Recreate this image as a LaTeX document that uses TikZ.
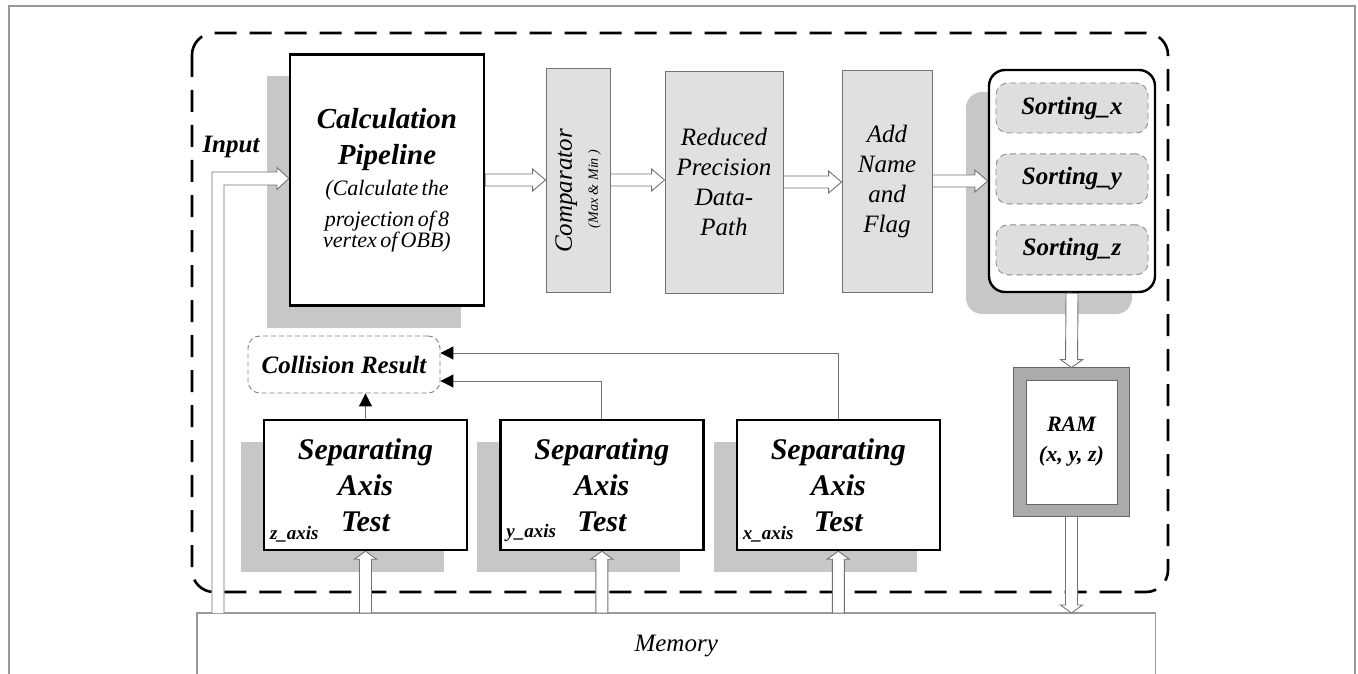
\documentclass[tikz,border=0pt]{standalone}
\usepackage{fontspec}
\setmainfont{Liberation Serif}
\usetikzlibrary{positioning, calc, shadows, arrows.meta}

\tikzset{
  block/.style={rectangle, draw, line width=2.4pt, fill=white, align=center, font=\itshape,
    drop shadow={shadow xshift=-23pt, shadow yshift=-22pt, fill=black!22, opacity=1}},
  stage/.style={rectangle, draw=black!55, line width=0.9pt, fill=black!12, align=center,
    font=\fontsize{25}{30}\selectfont\itshape},
  sortbox/.style={rectangle, draw=black!45, line width=0.9pt, dash pattern=on 6pt off 4pt,
    fill=black!13, rounded corners=12pt, minimum width=152pt, minimum height=50pt,
    font=\fontsize{25}{30}\selectfont\bfseries\itshape},
  sat/.style={block, minimum width=203pt, minimum height=130pt,
    font=\fontsize{30}{36}\selectfont\bfseries\itshape},
  axislbl/.style={inner sep=2pt, font=\fontsize{19}{22}\selectfont\bfseries\itshape},
  result/.style={rectangle, draw=black!50, line width=0.9pt, dash pattern=on 5pt off 3pt,
    rounded corners=12pt, fill=white, minimum width=192pt, minimum height=57pt,
    font=\fontsize{25}{30}\selectfont\bfseries\itshape},
  ramcell/.style={rectangle, draw=black!60, line width=0.8pt, fill=white, align=center,
    minimum width=91pt, minimum height=124pt, font=\fontsize{22}{30}\selectfont\bfseries\itshape,
    preaction={draw=black!60, line width=25.6pt}, preaction={draw=black!33, line width=24pt}},
  bus/.style={draw=black!55, line width=0.9pt, fill=white, to path={
    ($(\tikztotarget)!#1!(\tikztostart)$) coordinate (bh)
    ($(\tikztostart)!6pt!90:(\tikztotarget)$) -- ($(bh)!6pt!-90:(\tikztostart)$)
    -- ($(bh)!11pt!-90:(\tikztostart)$) -- (\tikztotarget)
    -- ($(bh)!11pt!90:(\tikztostart)$) -- ($(bh)!6pt!90:(\tikztostart)$)
    -- ($(\tikztostart)!6pt!-90:(\tikztotarget)$) -- cycle}},
  bus/.default=13pt,
  link/.style={draw=black!55, line width=1pt, -{Triangle[length=13pt, width=13pt, color=black]}},
  frame/.style={draw=black!40, line width=1.5pt}
}

\begin{document}
\begin{tikzpicture}[x=1pt, y=-1pt]
  \useasboundingbox (0,0) rectangle (1358,674);
  \draw[frame] (9,690) |- (1355,6) -- (1355,690);
  \draw[line width=2.6pt, dash pattern=on 22pt off 13pt, rounded corners=22pt] (192,33) rectangle (1168,592);

  % pipeline row
  \node[block, minimum width=194pt, minimum height=251pt, text width=186pt] (pipe) at (387,180)
    {{\fontsize{29}{36}\selectfont\bfseries Calculation\\ Pipeline\par}
     \fontsize{22}{31}\selectfont(Calculate the\\ projection of 8\\ vertex of OBB)};
  \node[stage, rotate=90, minimum width=224pt, minimum height=64pt] (comp) at (578,180)
    {Comparator\hspace*{22pt}\\[-4pt]{\fontsize{14}{16}\selectfont(Max \& Min )\hspace*{18pt}}};
  \node[stage, minimum width=118pt, minimum height=222pt] (rpd) at (724,182) {Reduced\\Precision\\Data-\\Path};
  \node[stage, minimum width=90pt, minimum height=222pt] (anf) at (887,181) {Add\\Name\\and\\Flag};
  \node[block, rounded corners=16pt, minimum width=166pt, minimum height=222pt] (sort) at (1072,181) {};
  \node[sortbox] (sortx) at (1072,108) {Sorting\_x};
  \node[sortbox, below=20pt of sortx] (sorty) {Sorting\_y};
  \node[sortbox, below=20pt of sorty] (sortz) {Sorting\_z};
  \node[font=\fontsize{25}{30}\selectfont\bfseries\itshape] (inp) at (231,147) {Input};

  % test row
  \node[result] (coll) at (344,364.5) {Collision Result};
  \node[sat] (satz) at (365.5,485) {Separating\\Axis\\Test};
  \node[sat, right=31pt of satz] (saty) {Separating\\Axis\\Test};
  \node[sat, right=31pt of saty] (satx) {Separating\\Axis\\Test};
  \node[axislbl, above right=7pt and 5pt of satz.south west] (zlbl) {z\_axis};
  \node[axislbl, above right=7pt and 5pt of saty.south west] (ylbl) {y\_axis};
  \node[axislbl, above right=7pt and 5pt of satx.south west] (xlbl) {x\_axis};
  \node[ramcell] (ram) at (1071.5,442) {RAM\\(x, y, z)};

  \node[minimum width=958pt, minimum height=66pt, inner sep=0pt, anchor=north west,
    font=\fontsize{25}{30}\selectfont\itshape] (mem) at (197,613) {Memory};
  \draw[frame, line width=1.2pt] (mem.south west) |- (mem.north east) -- (mem.south east);

  % data paths
  \draw[bus] (212,0 |- mem.north) -- (212,172) -- (277,172) -- (277,167.5) -- (pipe.west |- 0,178.5)
    -- (277,189.5) -- (277,185) -- (224,185) -- (224,0 |- mem.north);
  \draw[bus] (pipe.east) to (pipe.east -| comp.north);
  \draw[bus] (comp.south) to (comp.south -| rpd.west);
  \draw[bus] (rpd.east) to (rpd.east -| anf.west);
  \draw[bus] (anf.east) to (anf.east -| sort.west);
  \draw[bus=8pt] (sort.south) to ([yshift=12pt]ram.north);
  \draw[bus=8pt] ([yshift=-12pt]ram.south) to (ram.south |- mem.north);
  \draw[bus=8pt] (satz.south |- mem.north) to (satz.south);
  \draw[bus=8pt] (saty.south |- mem.north) to (saty.south);
  \draw[bus=8pt] (satx.south |- mem.north) to (satx.south);

  \draw[link] (satx.north) |- ([yshift=11.5pt]coll.east);
  \draw[link] (saty.north) |- ([yshift=-16.5pt]coll.east);
  \draw[link] (satz.north) -- (satz.north |- coll.south);
\end{tikzpicture}
\end{document}
